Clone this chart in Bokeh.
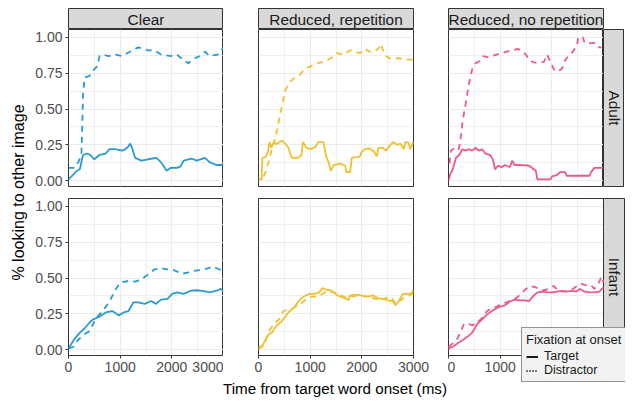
import math
from bokeh.plotting import figure
from bokeh.layouts import row, column
from bokeh.models import (Range1d, FixedTicker, Label, Legend, LegendItem,
                          PrintfTickFormatter, Grid)
from bokeh.embed import file_html
from bokeh.resources import INLINE

FONT = "Liberation Sans"

# ---------------- data ----------------
conditions = ["Clear", "Reduced, repetition", "Reduced, no repetition"]
ages = ["Adult", "Infant"]
cond_colors = ["#2A9AD6", "#F0C030", "#EE5A88"]
legend_labels = ["Target", "Distractor"]
legend_title = "Fixation at onset"
x_label = "Time from target word onset (ms)"
y_label = "% looking to other image"
x_ticks = [0, 1000, 2000, 3000]
x_minor = [500, 1500, 2500]
y_ticks = [0.0, 0.25, 0.5, 0.75, 1.0]
y_minor = [0.125, 0.375, 0.625, 0.875]

# Clear / Adult
clear_adult_target_t = [0, 60, 160, 220, 280, 345, 420, 500, 600, 720, 790, 900, 1040, 1100, 1160, 1195,
                        1230, 1290, 1410, 1540, 1700, 1790, 1900, 1980, 2100, 2170, 2230, 2380, 2480,
                        2640, 2730, 2860, 3000]
clear_adult_target_v = [0.01, 0.03, 0.07, 0.08, 0.18, 0.19, 0.18, 0.15, 0.18, 0.19, 0.22, 0.22, 0.21, 0.22,
                        0.24, 0.26, 0.23, 0.16, 0.14, 0.15, 0.16, 0.13, 0.07, 0.09, 0.09, 0.10, 0.14, 0.155,
                        0.14, 0.16, 0.13, 0.11, 0.11]
clear_adult_distr_t = [0, 120, 190, 250, 265, 280, 310, 400, 480, 560, 600, 660, 780, 910, 1040, 1190, 1350,
                       1540, 1660, 1790, 1980, 2100, 2230, 2320, 2420, 2540, 2640, 2730, 2890, 3000]
clear_adult_distr_v = [0.09, 0.09, 0.13, 0.18, 0.36, 0.59, 0.72, 0.73, 0.77, 0.80, 0.87, 0.88, 0.87, 0.88,
                       0.87, 0.90, 0.93, 0.91, 0.91, 0.88, 0.87, 0.88, 0.84, 0.82, 0.85, 0.87, 0.90, 0.87,
                       0.88, 0.93]
# Clear / Infant
clear_infant_target_t = [0, 125, 220, 314, 408, 470, 596, 722, 847, 973, 1067, 1161, 1255, 1350, 1475, 1600,
                         1695, 1790, 1914, 2008, 2103, 2230, 2353, 2479, 2600, 2730, 2850, 2950, 3000]
clear_infant_target_v = [0.01, 0.08, 0.12, 0.15, 0.19, 0.21, 0.23, 0.26, 0.27, 0.24, 0.26, 0.27, 0.33, 0.33,
                         0.32, 0.34, 0.32, 0.35, 0.355, 0.39, 0.40, 0.39, 0.41, 0.415, 0.41, 0.40, 0.41,
                         0.425, 0.41]
clear_infant_distr_t = [0, 94, 188, 314, 408, 533, 659, 785, 910, 1004, 1161, 1286, 1412, 1538, 1663, 1789,
                        1914, 2040, 2197, 2322, 2416, 2542, 2667, 2793, 2887, 3000]
clear_infant_distr_v = [0.01, 0.02, 0.07, 0.11, 0.13, 0.22, 0.27, 0.33, 0.42, 0.47, 0.48, 0.475, 0.49, 0.525,
                        0.56, 0.57, 0.56, 0.555, 0.53, 0.54, 0.55, 0.555, 0.565, 0.58, 0.565, 0.55]
# Reduced, repetition / Adult
redrep_adult_target_t = [0, 60, 75, 138, 182, 214, 252, 296, 340, 390, 453, 516, 579, 642, 767, 830, 862,
                         925, 1019, 1113, 1157, 1258, 1302, 1365, 1396, 1459, 1585, 1679, 1698, 1774, 1805,
                         1899, 1962, 1994, 2057, 2151, 2245, 2289, 2321, 2403, 2465, 2528, 2604, 2686,
                         2748, 2811, 2843, 2906, 2937, 3000]
redrep_adult_target_v = [0.01, 0.01, 0.16, 0.165, 0.20, 0.27, 0.23, 0.27, 0.255, 0.265, 0.28, 0.26, 0.23,
                         0.16, 0.16, 0.18, 0.27, 0.23, 0.22, 0.24, 0.27, 0.27, 0.18, 0.12, 0.07, 0.11, 0.12,
                         0.105, 0.06, 0.06, 0.16, 0.165, 0.17, 0.20, 0.22, 0.225, 0.20, 0.17, 0.23, 0.23,
                         0.21, 0.24, 0.27, 0.25, 0.26, 0.22, 0.27, 0.265, 0.22, 0.27]
redrep_adult_distr_t = [100, 138, 201, 264, 327, 390, 453, 516, 610, 704, 799, 893, 1019, 1145, 1270, 1396,
                        1522, 1648, 1774, 1868, 1962, 2057, 2151, 2245, 2340, 2371, 2434, 2528, 2591, 2717,
                        2843, 2969, 3000]
redrep_adult_distr_v = [0.03, 0.06, 0.14, 0.23, 0.30, 0.41, 0.52, 0.63, 0.69, 0.72, 0.74, 0.78, 0.80, 0.82,
                        0.83, 0.855, 0.89, 0.88, 0.91, 0.90, 0.89, 0.92, 0.90, 0.90, 0.93, 0.955, 0.88,
                        0.855, 0.85, 0.855, 0.845, 0.845, 0.85]
# Reduced, repetition / Infant
redrep_infant_target_t = [0, 75, 138, 201, 264, 327, 390, 453, 516, 579, 642, 704, 767, 830, 893, 987, 1082,
                          1176, 1239, 1302, 1396, 1459, 1522, 1585, 1679, 1742, 1774, 1836, 1931, 2025, 2119,
                          2214, 2308, 2403, 2497, 2591, 2654, 2717, 2792, 2874, 2937, 3000]
redrep_infant_target_v = [0.01, 0.03, 0.07, 0.11, 0.12, 0.16, 0.18, 0.20, 0.23, 0.26, 0.28, 0.30, 0.335,
                          0.36, 0.375, 0.39, 0.39, 0.40, 0.43, 0.42, 0.415, 0.40, 0.38, 0.37, 0.36, 0.345,
                          0.38, 0.37, 0.385, 0.375, 0.37, 0.38, 0.36, 0.355, 0.345, 0.34, 0.31, 0.34, 0.39,
                          0.39, 0.39, 0.41]
redrep_infant_distr_t = [0, 107, 201, 296, 390, 484, 579, 673, 767, 862, 956, 1050, 1145, 1239, 1333, 1459,
                         1585, 1711, 1836, 1962, 2088, 2214, 2340, 2465, 2560, 2654, 2748, 2843, 2937, 3000]
redrep_infant_distr_v = [0.005, 0.03, 0.13, 0.18, 0.21, 0.27, 0.28, 0.29, 0.31, 0.335, 0.36, 0.37, 0.37,
                         0.39, 0.41, 0.40, 0.38, 0.36, 0.385, 0.38, 0.37, 0.36, 0.345, 0.36, 0.37, 0.32,
                         0.345, 0.37, 0.38, 0.40]
# Reduced, no repetition / Adult
rednorep_adult_target_t = [0, 38, 82, 145, 208, 271, 334, 397, 460, 523, 586, 649, 712, 807, 857, 901, 964,
                           1027, 1090, 1185, 1235, 1279, 1374, 1563, 1689, 1720, 1972, 2004, 2098, 2161,
                           2256, 2287, 2729, 2760, 2823, 3000]
rednorep_adult_target_v = [0.0, 0.05, 0.08, 0.16, 0.18, 0.22, 0.21, 0.22, 0.21, 0.23, 0.21, 0.22, 0.19,
                           0.18, 0.15, 0.08, 0.105, 0.095, 0.11, 0.094, 0.14, 0.11, 0.11, 0.105, 0.07, 0.01,
                           0.01, 0.03, 0.04, 0.06, 0.06, 0.035, 0.035, 0.06, 0.09, 0.09]
rednorep_adult_distr_t = [19, 45, 82, 145, 190, 227, 271, 334, 397, 460, 523, 586, 681, 775, 838, 933, 1027,
                          1122, 1248, 1342, 1437, 1500, 1563, 1657, 1752, 1846, 1909, 1972, 2035, 2098, 2193,
                          2256, 2319, 2382, 2445, 2490, 2508, 2603, 2634, 2760, 2860, 2918, 2960]
rednorep_adult_distr_v = [0.12, 0.21, 0.22, 0.22, 0.21, 0.27, 0.41, 0.54, 0.68, 0.78, 0.82, 0.83, 0.87,
                          0.86, 0.87, 0.88, 0.89, 0.90, 0.91, 0.92, 0.90, 0.88, 0.84, 0.825, 0.82, 0.83,
                          0.88, 0.83, 0.78, 0.76, 0.78, 0.84, 0.87, 0.89, 0.92, 0.95, 1.0, 1.0, 0.96, 0.96,
                          0.96, 0.93, 0.93]
# Reduced, no repetition / Infant
rednorep_infant_target_t = [0, 82, 176, 271, 365, 460, 554, 649, 744, 838, 933, 996, 1090, 1185, 1279, 1374,
                            1468, 1563, 1626, 1720, 1815, 1909, 2004, 2098, 2193, 2287, 2382, 2477, 2540,
                            2634, 2729, 2823, 2918, 3000]
rednorep_infant_target_v = [0.01, 0.02, 0.045, 0.067, 0.09, 0.12, 0.18, 0.21, 0.245, 0.27, 0.29, 0.30, 0.31,
                            0.335, 0.35, 0.345, 0.345, 0.34, 0.37, 0.40, 0.405, 0.40, 0.40, 0.405, 0.41,
                            0.405, 0.41, 0.405, 0.425, 0.405, 0.40, 0.40, 0.405, 0.435]
rednorep_infant_distr_t = [0, 82, 176, 240, 302, 397, 460, 554, 649, 744, 838, 933, 1027, 1122, 1216, 1311,
                           1405, 1500, 1594, 1689, 1783, 1878, 1972, 2035, 2130, 2224, 2319, 2414, 2508,
                           2571, 2666, 2760, 2823, 2899, 2962, 3000]
rednorep_infant_distr_v = [0.02, 0.045, 0.08, 0.13, 0.18, 0.18, 0.17, 0.19, 0.22, 0.27, 0.29, 0.30, 0.32,
                           0.33, 0.345, 0.36, 0.39, 0.425, 0.445, 0.435, 0.42, 0.415, 0.435, 0.445, 0.41,
                           0.405, 0.41, 0.425, 0.45, 0.46, 0.45, 0.45, 0.425, 0.46, 0.51, 0.47]

series = {
    (0, 0): (clear_adult_target_t, clear_adult_target_v, clear_adult_distr_t, clear_adult_distr_v),
    (0, 1): (clear_infant_target_t, clear_infant_target_v, clear_infant_distr_t, clear_infant_distr_v),
    (1, 0): (redrep_adult_target_t, redrep_adult_target_v, redrep_adult_distr_t, redrep_adult_distr_v),
    (1, 1): (redrep_infant_target_t, redrep_infant_target_v, redrep_infant_distr_t, redrep_infant_distr_v),
    (2, 0): (rednorep_adult_target_t, rednorep_adult_target_v, rednorep_adult_distr_t, rednorep_adult_distr_v),
    (2, 1): (rednorep_infant_target_t, rednorep_infant_target_v, rednorep_infant_distr_t, rednorep_infant_distr_v),
}

# ---------------- geometry / style ----------------
X0, X1 = 0, 3000
Y0, Y1 = -0.04, 1.055
FRAME_W = 155
FRAME_H = 157
STRIP = 21
TOP_PAD = 8
YLAB_W = 30
L1, L2, R2 = 38, 35, 34
GAP_HALF = 6
TICK_AREA = 21
XLAB_H = 21
PX_X = FRAME_W / (X1 - X0)
PX_Y = FRAME_H / (Y1 - Y0)
GRID_COLOR = "#EBEBEB"
DARK = "#333333"
STRIP_FILL = "#D9D9D9"
LINE_W = 1.8
DASH = "6 5"


def new_fig(width, height, l, r, t, b, xr, yr, xloc=None, yloc=None):
    p = figure(width=width, height=height, x_range=xr, y_range=yr,
               output_backend="svg", toolbar_location=None, min_border=0,
               min_border_left=l, min_border_right=r, min_border_top=t, min_border_bottom=b,
               x_axis_location=xloc, y_axis_location=yloc)
    p.background_fill_color = "white"
    p.border_fill_color = "white"
    return p


def style_panel(p):
    xt = FixedTicker(ticks=x_ticks, minor_ticks=x_minor)
    yt = FixedTicker(ticks=y_ticks, minor_ticks=y_minor)
    if not p.xgrid:
        p.add_layout(Grid(dimension=0), "center")
    if not p.ygrid:
        p.add_layout(Grid(dimension=1), "center")
    for g, t in ((p.xgrid, xt), (p.ygrid, yt)):
        g.ticker = t
        g.grid_line_color = GRID_COLOR
        g.grid_line_width = 1
        g.minor_grid_line_color = GRID_COLOR
        g.minor_grid_line_width = 0.8
    for ax, t in ((p.xaxis, xt), (p.yaxis, yt)):
        if ax:
            ax.ticker = t
            ax.axis_line_color = None
            ax.major_tick_line_color = DARK
            ax.major_tick_out = 3
            ax.major_tick_in = 0
            ax.minor_tick_line_color = None
            ax.major_label_text_font = FONT
            ax.major_label_text_font_size = "14px"
            ax.major_label_text_color = "#4D4D4D"
            ax.major_label_standoff = 2
    if p.yaxis:
        p.yaxis.formatter = PrintfTickFormatter(format="%.2f")


def draw_series(p, ci, ai):
    tt, tv, dt, dv = series[(ci, ai)]
    col = cond_colors[ci]
    p.line(tt, tv, line_color=col, line_width=LINE_W)
    p.line(dt, dv, line_color=col, line_width=LINE_W, line_dash=DASH)


def strip_fig(width, height, l, r, t, b, text, vertical=False):
    s = new_fig(width, height, l, r, t, b, Range1d(0, 1), Range1d(0, 1))
    s.background_fill_color = STRIP_FILL
    s.outline_line_color = DARK
    s.outline_line_width = 1
    s.grid.visible = False
    fw = width - l - r
    fh = height - t - b
    s.add_layout(Label(x=fw / 2, y=fh / 2, x_units="screen", y_units="screen", text=text,
                       angle=(-math.pi / 2 if vertical else 0), text_align="center",
                       text_baseline="middle", text_font=FONT, text_font_size="15.4px",
                       text_color="#1A1A1A"))
    return s


def std_panel(ci, ai, width, l, r):
    top, bottom = (0, GAP_HALF) if ai == 0 else (GAP_HALF, TICK_AREA)
    p = new_fig(width, top + FRAME_H + bottom, l, r, top, bottom,
                Range1d(X0, X1), Range1d(Y0, Y1),
                xloc=("below" if ai == 1 else None), yloc=("left" if ci == 0 else None))
    p.outline_line_color = DARK
    p.outline_line_width = 1
    style_panel(p)
    draw_series(p, ci, ai)
    return p


W1 = L1 + FRAME_W
W2 = L2 + FRAME_W + R2
W3 = 1 + FRAME_W

# strips on top
s1 = strip_fig(W1, TOP_PAD + STRIP, L1, 0, TOP_PAD, 0, conditions[0])
s2 = strip_fig(W2, TOP_PAD + STRIP, L2, R2, TOP_PAD, 0, conditions[1])
s3 = strip_fig(W3 + STRIP, TOP_PAD + STRIP, 1, STRIP, TOP_PAD, 0, conditions[2])

TL = std_panel(0, 0, W1, L1, 0)
TM = std_panel(1, 0, W2, L2, R2)
TR = std_panel(2, 0, W3, 1, 0)
adult_strip = strip_fig(STRIP, FRAME_H + GAP_HALF, 0, 0, 0, GAP_HALF, ages[0], vertical=True)
BL = std_panel(0, 1, W1, L1, 0)
BM = std_panel(1, 1, W2, L2, R2)

# bottom-right panel: frame extended to host the "Infant" strip and the legend overlap
BR_FW = 1 + FRAME_W + STRIP + 1
BR_EXTRA_B = 28
BR_FH = 1 + FRAME_H + BR_EXTRA_B
BR_H = GAP_HALF + FRAME_H + TICK_AREA + XLAB_H
BR_TOP = GAP_HALF - 1
BR_BOT = BR_H - BR_TOP - BR_FH
br_x0 = X0 - 1 / PX_X
br_x1 = br_x0 + BR_FW / PX_X
br_y1 = Y1 + 1 / PX_Y
br_y0 = Y0 - BR_EXTRA_B / PX_Y
strip_x1 = X1 + STRIP / PX_X
BR = new_fig(BR_FW, BR_H, 0, 0, BR_TOP, BR_BOT, Range1d(br_x0, br_x1), Range1d(br_y0, br_y1),
             xloc="below", yloc=None)
BR.outline_line_color = None
style_panel(BR)
BR.xaxis.fixed_location = Y0
BR.quad(left=[br_x0], right=[br_x1], bottom=[br_y0], top=[Y0], fill_color="white", line_color=None)
BR.quad(left=[X1], right=[strip_x1], bottom=[Y0], top=[Y1], fill_color=STRIP_FILL, line_color=DARK,
        line_width=1)
BR.quad(left=[X0], right=[X1], bottom=[Y0], top=[Y1], fill_color=None, line_color=DARK, line_width=1)
draw_series(BR, 2, 1)
BR.add_layout(Label(x=1 + FRAME_W + STRIP / 2, y=BR_EXTRA_B + FRAME_H / 2, x_units="screen",
                    y_units="screen", text=ages[1], angle=-math.pi / 2, text_align="center",
                    text_baseline="middle", text_font=FONT, text_font_size="15.4px",
                    text_color="#1A1A1A"))
# legend-only renderers: a single point draws no visible line but gives the legend its glyph
r_t = BR.line([X0], [Y0], line_color="black", line_width=LINE_W)
r_d = BR.line([X0], [Y0], line_color="black", line_width=LINE_W, line_dash="1 2")
leg = Legend(items=[LegendItem(label=legend_labels[0], renderers=[r_t], index=0),
                    LegendItem(label=legend_labels[1], renderers=[r_d], index=0)],
             title=legend_title, location=(74, 1))
leg.background_fill_color = "#F2F2F2"
leg.background_fill_alpha = 1.0
leg.border_line_color = DARK
leg.border_line_width = 1
leg.padding = 4
leg.spacing = 0
leg.margin = 0
leg.glyph_width = 12
leg.glyph_height = 13
leg.label_standoff = 6
leg.label_text_font = FONT
leg.label_text_font_size = "12.5px"
leg.label_text_color = "#1A1A1A"
leg.label_height = 13
leg.title_text_font = FONT
leg.title_text_font_size = "13px"
leg.title_text_font_style = "normal"
leg.title_text_color = "#1A1A1A"
leg.title_standoff = 2
BR.add_layout(leg, "center")

# axis titles
PANELS_H = TOP_PAD + STRIP + (FRAME_H + GAP_HALF) + (GAP_HALF + FRAME_H + TICK_AREA)
ylab = new_fig(YLAB_W, PANELS_H, 0, 0, 0, 0, Range1d(0, 1), Range1d(0, 1))
ylab.outline_line_color = None
ylab.grid.visible = False
center_from_top = TOP_PAD + STRIP + (FRAME_H + GAP_HALF + GAP_HALF + FRAME_H) / 2
ylab.add_layout(Label(x=18, y=PANELS_H - center_from_top, x_units="screen", y_units="screen",
                      text=y_label, angle=math.pi / 2, text_align="center", text_baseline="middle",
                      text_font=FONT, text_font_size="16px", text_color="black"))

LEFT_W = YLAB_W + W1 + W2
xlab = new_fig(LEFT_W, XLAB_H, 0, 0, 0, 0, Range1d(0, 1), Range1d(0, 1))
xlab.outline_line_color = None
xlab.grid.visible = False
xlab_center = YLAB_W + W1 + L2 + FRAME_W / 2 - 1
xlab.add_layout(Label(x=xlab_center, y=XLAB_H / 2 - 1, x_units="screen", y_units="screen",
                      text=x_label, text_align="center", text_baseline="middle",
                      text_font=FONT, text_font_size="15.2px", text_color="black"))

# every plot sits alone or with equal-border siblings inside its own row, so that
# Bokeh's border alignment of plots in a column does not squeeze the frames
left_block = column(
    row(ylab, column(row(s1, s2), row(TL, TM), row(BL, BM))),
    row(xlab),
)
right_block = column(row(s3), row(TR, adult_strip), row(BR))
layout = row(left_block, right_block)

open("out.html", "w").write(file_html(layout, INLINE))
